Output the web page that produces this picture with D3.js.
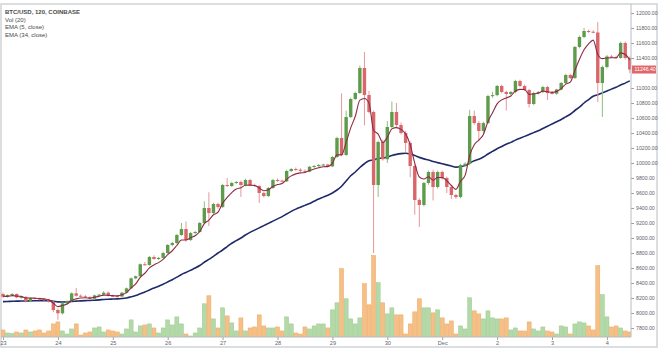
<!DOCTYPE html>
<html>
<head>
<meta charset="utf-8">
<script src="https://cdn.jsdelivr.net/npm/d3@7"></script>
<style>
  body { margin: 0; background: #fff; }
  svg { display: block; font-family: "Liberation Sans", Arial, sans-serif; }
</style>
</head>
<body>
<svg id="chart" width="660" height="351"></svg>
<script>
// BTC/USD 2h candles, Nov 23 00:00 -> Dec 4 10:00
const opens = [8253,8218,8240,8253,8209,8215,8155,8200,8190,8185,8178,8150,8040,7996,8129,8160,8262,8230,8222,8209,
  8190,8235,8245,8271,8230,8225,8220,8271,8329,8462,8490,8650,8640,8747,8720,8735,8800,8907,8933,9040,
  9120,8973,9067,9080,9200,9400,9333,9453,9413,9707,9693,9733,9747,9707,9773,9707,9693,9600,9560,9667,
  9773,9765,9755,9893,9920,9910,9895,9885,9950,9960,9973,9980,9955,10080,10333,10107,10613,10853,10933,11267,
  10907,10680,9707,10280,10050,10480,10680,10507,10400,10267,9960,9507,9440,9733,9880,9680,9880,9800,9680,9573,
  9547,9973,9990,10627,10533,10427,10533,10893,10905,11027,10947,10920,10947,11093,11027,10973,10787,10933,10947,11013,
  10933,10925,10980,11067,11173,11133,11547,11680,11760,11750,11740,11067,11280,11420,11410,11400,11600,11400];
const highs = [8275,8250,8265,8262,8225,8225,8210,8215,8205,8200,8190,8160,8060,8140,8170,8275,8335,8250,8240,8225,
  8245,8255,8290,8285,8245,8240,8280,8340,8475,8500,8660,8680,8760,8770,8745,8815,8920,8950,9055,9200,
  9220,9080,9095,9215,9490,9610,9470,9470,9720,9800,9750,9760,9765,9790,9790,9725,9705,9615,9680,9790,
  9795,9780,9910,9935,9940,9930,9915,9960,9975,9985,9990,9990,10095,10350,10930,10700,10870,10950,11300,11480,
  10960,10700,10300,10310,10560,10820,10800,10540,10430,10290,9980,9530,9750,9900,9910,9900,9900,9820,9700,9590,
  9990,10010,10710,10700,10560,10550,10910,10950,11040,11045,10965,10960,11110,11110,11045,10990,10950,10960,11030,11030,
  10960,10990,11080,11190,11190,11560,11700,11800,11780,11770,11880,11300,11440,11440,11430,11620,11620,11420];
const lows = [8200,8205,8225,8195,8190,8140,8145,8180,8170,8165,8140,8010,7910,7980,8110,8150,8220,8210,8200,8180,
  8180,8225,8235,8220,8215,8210,8215,8260,8320,8450,8480,8630,8630,8710,8705,8725,8790,8890,8920,9030,
  8950,8960,9050,9070,9190,9160,9320,9390,9400,9680,9680,9720,9547,9690,9690,9680,9467,9540,9545,9655,
  9750,9740,9745,9880,9895,9880,9870,9875,9935,9945,9960,9945,9945,10065,10090,10095,10600,10840,10920,10500,
  10660,8800,9547,10030,10000,10460,10480,10380,10150,9810,9310,9147,9420,9710,9500,9660,9780,9600,9520,9520,
  9530,9950,9970,10510,10300,10400,10520,10870,10890,10930,10700,10905,10930,11010,10960,10740,10770,10915,10930,10840,
  10915,10910,10965,11050,11120,11120,11530,11665,11735,11730,10813,10613,11260,11400,11390,11390,11380,11200];
const closes = [8218,8240,8253,8209,8215,8155,8200,8190,8185,8178,8150,8040,7996,8129,8160,8262,8230,8222,8209,8190,
  8235,8245,8271,8230,8225,8220,8271,8329,8462,8490,8650,8640,8747,8720,8735,8800,8907,8933,9040,9120,
  8973,9067,9080,9200,9400,9333,9453,9413,9707,9693,9733,9747,9707,9773,9707,9693,9600,9560,9667,9773,
  9765,9755,9893,9920,9910,9895,9885,9950,9960,9973,9980,9955,10080,10333,10107,10613,10853,10933,11267,10907,
  10680,9707,10280,10050,10480,10680,10507,10400,10267,9960,9507,9440,9733,9880,9680,9880,9800,9680,9573,9547,
  9973,9990,10627,10533,10427,10533,10893,10905,11027,10947,10920,10947,11093,11027,10973,10787,10933,10947,11013,10933,
  10925,10980,11067,11173,11133,11547,11680,11760,11750,11740,11067,11280,11420,11410,11400,11600,11400,11246.4];
const volumes = [280,160,140,200,160,280,200,240,280,160,240,520,600,240,120,320,520,80,160,200,
  360,400,200,280,240,200,120,320,680,200,440,480,520,360,160,360,680,480,800,520,
  120,40,160,360,1320,1640,720,360,1160,840,560,240,760,240,360,400,880,440,360,360,
  400,240,800,520,160,120,400,320,440,520,520,360,1080,1360,2720,1520,720,520,760,2120,
  1280,3240,2160,1360,920,1160,880,880,120,520,1000,1520,1160,1160,960,1080,760,520,640,120,
  440,320,1560,1040,920,720,1040,760,720,720,760,280,360,240,240,600,320,240,400,240,
  200,120,440,400,120,520,600,560,440,280,2840,1680,800,400,440,360,240,200];
const ema5 = [8225,8222,8232,8225,8222,8200,8200,8197,8193,8188,8175,8130,8085,8100,8120,8167,8188,8200,8203,8199,
  8211,8222,8238,8235,8232,8228,8242,8271,8335,8387,8475,8530,8602,8641,8672,8715,8779,8830,8900,8973,
  8973,9004,9030,9087,9191,9238,9310,9344,9465,9541,9605,9652,9670,9704,9705,9701,9667,9631,9643,9686,
  9712,9726,9782,9828,9855,9868,9874,9899,9919,9937,9951,9952,9995,10108,10108,10276,10468,10623,10838,10861,
  10801,10436,10384,10273,10342,10455,10472,10448,10388,10245,9999,9813,9786,9817,9771,9807,9805,9763,9700,9649,
  9757,9835,10099,10244,10305,10381,10552,10670,10789,10842,10868,10894,10960,10982,10979,10915,10921,10930,10958,10950,
  10942,10955,10992,11052,11079,11235,11383,11509,11589,11639,11448,11392,11401,11404,11403,11469,11446,11379];
const ema34 = [8151,8153,8156,8158,8160,8160,8162,8163,8164,8165,8164,8157,8148,8147,8148,8154,8158,8162,8165,8167,
  8171,8175,8181,8184,8186,8188,8193,8201,8216,8232,8257,8280,8308,8333,8357,8383,8414,8444,8478,8514,
  8540,8570,8599,8633,8677,8714,8756,8800,8840,8885,8930,8965,9000,9040,9075,9105,9135,9165,9195,9225,
  9255,9285,9320,9355,9385,9410,9435,9460,9490,9520,9545,9570,9600,9640,9690,9760,9830,9880,9940,9990,
  10030,10040,10060,10065,10080,10100,10115,10125,10130,10120,10100,10075,10055,10040,10020,10005,9990,9975,9960,9945,
  9950,9965,10000,10030,10050,10080,10120,10155,10190,10220,10250,10275,10305,10330,10355,10380,10405,10430,10460,10490,
  10520,10550,10580,10615,10650,10700,10745,10800,10845,10890,10910,10935,10960,10985,11010,11040,11065,11095];
const dayLabels = ['23','24','25','26','27','28','29','30','Dec','2','3','4'];
const priceTicks = [7800,8000,8200,8400,8600,8800,9000,9200,9400,9600,9800,10000,
  10200,10400,10600,10800,11000,11200,11400,11600,11800,12000];
const legendLines = ['BTC/USD, 120, COINBASE', 'Vol (20)', 'EMA (5, close)', 'EMA (34, close)'];

const svg = d3.select('#chart');

let plot = { left: 1, right: 631, top: 4, bottom: 337 };

let x = d3.scaleLinear()
  .domain([0, 137])
  .range([3, 629.8]);

let y = d3.scaleLinear()
  .domain([7800, 12000])
  .range([328, 13]);

let yVol = d3.scaleLinear()
  .domain([0, 3300])
  .range([plot.bottom, 254]);

let data = opens.map((o, i) => ({
  i: i, o: o, h: highs[i], l: lows[i], c: closes[i], v: volumes[i], up: closes[i] >= o
}));

let last = closes[closes.length - 1];

// outer frame
svg.append('rect')
  .attr('x', 1).attr('y', 4)
  .attr('width', 656).attr('height', 343)
  .attr('fill', 'none')
  .attr('stroke', '#d0d3d8')
  .attr('stroke-width', 1.5);

svg.append('clipPath').attr('id', 'plot-clip')
  .append('rect')
  .attr('x', plot.left).attr('y', plot.top)
  .attr('width', plot.right - plot.left).attr('height', plot.bottom - plot.top);

let g = svg.append('g').attr('clip-path', 'url(#plot-clip)');

// volume bars
g.selectAll('.vol')
  .data(data)
  .enter()
  .append('rect')
  .attr('class', 'vol')
  .attr('x', d => x(d.i) - 2)
  .attr('y', d => yVol(d.v))
  .attr('width', 4)
  .attr('height', d => plot.bottom - yVol(d.v))
  .attr('fill', d => d.up ? '#b3d9a8' : '#f5bf85')
  .attr('stroke', d => d.up ? '#99c98c' : '#eba865')
  .attr('stroke-width', 0.5);

// EMA lines
let line = d3.line()
  .x((d, i) => x(i))
  .y(d => y(d))
  .curve(d3.curveMonotoneX);

g.append('path')
  .datum(ema34)
  .attr('d', line)
  .attr('fill', 'none')
  .attr('stroke', '#1f2a6b')
  .attr('stroke-width', 1.6);

// wicks
g.selectAll('.wick')
  .data(data)
  .enter()
  .append('line')
  .attr('class', 'wick')
  .attr('x1', d => x(d.i))
  .attr('x2', d => x(d.i))
  .attr('y1', d => y(d.h))
  .attr('y2', d => y(d.l))
  .attr('stroke', d => d.up ? '#8fbf7f' : '#e39a9a')
  .attr('stroke-width', 1);

// bodies
g.selectAll('.body')
  .data(data)
  .enter()
  .append('rect')
  .attr('class', 'body')
  .attr('x', d => x(d.i) - 1.7)
  .attr('y', d => y(Math.max(d.o, d.c)))
  .attr('width', 3.4)
  .attr('height', d => Math.max(1, Math.abs(y(d.o) - y(d.c))))
  .attr('fill', d => d.up ? '#5e9c4c' : '#d9666a');

g.append('path')
  .datum(ema5)
  .attr('d', line)
  .attr('fill', 'none')
  .attr('stroke', '#8e2a44')
  .attr('stroke-width', 1.1);

// right price axis (tick under the last-price tag is covered, as in the original)
let yAxis = svg.append('g')
  .attr('transform', `translate(${plot.right},0)`)
  .call(d3.axisRight(y)
    .tickValues(priceTicks.filter(t => Math.abs(y(t) - y(last)) > 7))
    .tickFormat(d3.format('.2f'))
    .tickSize(3));
yAxis.select('.domain').remove();
yAxis.selectAll('line').attr('stroke', '#9aa0a6');
yAxis.selectAll('text')
  .attr('x', 5)
  .attr('fill', '#5f6368')
  .style('font-size', '5.2px');

svg.append('line')
  .attr('x1', plot.right).attr('x2', plot.right)
  .attr('y1', plot.top).attr('y2', plot.bottom)
  .attr('stroke', '#b8bcc2');

// bottom time axis
let xAxis = svg.append('g')
  .attr('transform', `translate(0,${plot.bottom})`)
  .call(d3.axisBottom(x)
    .tickValues(dayLabels.map((d, i) => i * 12))
    .tickFormat((d, i) => dayLabels[i])
    .tickSize(3));
xAxis.select('.domain').remove();
xAxis.selectAll('line').attr('stroke', '#9aa0a6');
xAxis.selectAll('text')
  .attr('y', 4)
  .attr('fill', '#5f6368')
  .style('font-size', '5.6px');

svg.append('line')
  .attr('x1', plot.left).attr('x2', plot.right)
  .attr('y1', plot.bottom).attr('y2', plot.bottom)
  .attr('stroke', '#b8bcc2');

// last price tag
svg.append('rect')
  .attr('x', plot.right + 1)
  .attr('y', y(last) - 4)
  .attr('width', 24)
  .attr('height', 8)
  .attr('fill', '#e0676b');
svg.append('text')
  .attr('x', plot.right + 3.5)
  .attr('y', y(last) + 1.9)
  .attr('fill', '#fff')
  .style('font-size', '5.2px')
  .text(d3.format('.2f')(last));

// legend
svg.selectAll('.legend')
  .data(legendLines)
  .enter()
  .append('text')
  .attr('class', 'legend')
  .attr('x', 5)
  .attr('y', (d, i) => 14 + i * 7.7)
  .attr('fill', '#4a4a4a')
  .style('font-size', '6px')
  .style('font-weight', (d, i) => i === 0 ? 'bold' : 'normal')
  .text(d => d);
</script>
</body>
</html>
